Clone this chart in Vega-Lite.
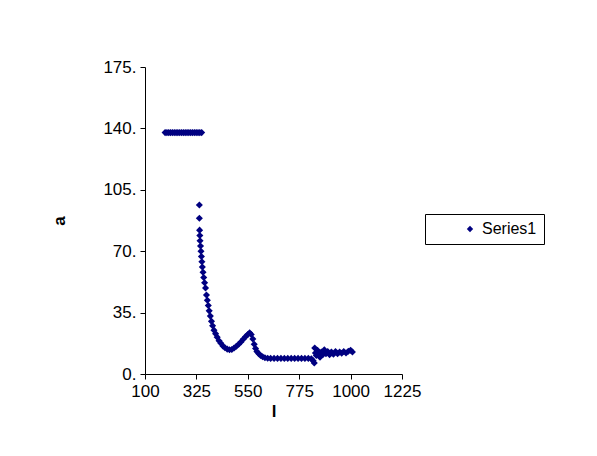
{
"$schema":"https://vega.github.io/schema/vega-lite/v6.json",
"width":257,"height":307,
"autosize":{"type":"none"},
"padding":{"left":145,"top":67,"right":195,"bottom":82},
"background":"white",
"config":{"view":{"stroke":null},"font":"Liberation Sans"},
"data":{"values":[
{"x":188,"y":137.6,"s":"Series1"},{"x":196,"y":137.6,"s":"Series1"},{"x":204,"y":137.6,"s":"Series1"},{"x":212,"y":137.6,"s":"Series1"},{"x":220,"y":137.6,"s":"Series1"},{"x":228,"y":137.6,"s":"Series1"},{"x":236,"y":137.6,"s":"Series1"},{"x":244,"y":137.6,"s":"Series1"},{"x":252,"y":137.6,"s":"Series1"},{"x":260,"y":137.6,"s":"Series1"},{"x":268,"y":137.6,"s":"Series1"},{"x":276,"y":137.6,"s":"Series1"},{"x":284,"y":137.6,"s":"Series1"},{"x":292,"y":137.6,"s":"Series1"},{"x":300,"y":137.6,"s":"Series1"},{"x":308,"y":137.6,"s":"Series1"},{"x":316,"y":137.6,"s":"Series1"},{"x":324,"y":137.6,"s":"Series1"},{"x":332,"y":137.6,"s":"Series1"},{"x":340,"y":137.6,"s":"Series1"},{"x":348,"y":137.6,"s":"Series1"},
{"x":338,"y":96.3,"s":"Series1"},{"x":338,"y":88.8,"s":"Series1"},{"x":339,"y":82,"s":"Series1"},{"x":340,"y":79,"s":"Series1"},{"x":341,"y":76,"s":"Series1"},{"x":343,"y":73,"s":"Series1"},{"x":345,"y":70,"s":"Series1"},{"x":347,"y":67,"s":"Series1"},{"x":349,"y":64,"s":"Series1"},{"x":351,"y":61,"s":"Series1"},{"x":354,"y":58,"s":"Series1"},{"x":357,"y":55,"s":"Series1"},{"x":361,"y":52,"s":"Series1"},{"x":365,"y":49,"s":"Series1"},{"x":369,"y":45,"s":"Series1"},{"x":373,"y":42,"s":"Series1"},{"x":377,"y":39,"s":"Series1"},{"x":381,"y":36,"s":"Series1"},{"x":386,"y":33,"s":"Series1"},{"x":391,"y":30,"s":"Series1"},{"x":396,"y":27.5,"s":"Series1"},{"x":402,"y":25,"s":"Series1"},{"x":409,"y":23,"s":"Series1"},{"x":416,"y":21,"s":"Series1"},{"x":424,"y":19,"s":"Series1"},{"x":432,"y":17.5,"s":"Series1"},{"x":441,"y":16,"s":"Series1"},{"x":450,"y":15,"s":"Series1"},{"x":460,"y":14.2,"s":"Series1"},{"x":470,"y":13.8,"s":"Series1"},{"x":480,"y":14,"s":"Series1"},{"x":490,"y":14.8,"s":"Series1"},{"x":500,"y":15.8,"s":"Series1"},{"x":510,"y":17,"s":"Series1"},{"x":520,"y":18.3,"s":"Series1"},{"x":530,"y":19.8,"s":"Series1"},{"x":540,"y":21.3,"s":"Series1"},{"x":550,"y":22.5,"s":"Series1"},{"x":558,"y":23.5,"s":"Series1"},{"x":565,"y":22.5,"s":"Series1"},{"x":572,"y":20,"s":"Series1"},{"x":578,"y":17,"s":"Series1"},{"x":584,"y":14.5,"s":"Series1"},{"x":590,"y":12.8,"s":"Series1"},{"x":598,"y":11.5,"s":"Series1"},{"x":606,"y":10.5,"s":"Series1"},{"x":615,"y":9.8,"s":"Series1"},{"x":625,"y":9.3,"s":"Series1"},{"x":637,"y":9,"s":"Series1"},{"x":650,"y":8.9,"s":"Series1"},{"x":665,"y":8.9,"s":"Series1"},{"x":680,"y":8.9,"s":"Series1"},{"x":695,"y":8.9,"s":"Series1"},{"x":710,"y":8.9,"s":"Series1"},{"x":725,"y":8.9,"s":"Series1"},{"x":740,"y":8.9,"s":"Series1"},{"x":755,"y":8.9,"s":"Series1"},{"x":770,"y":8.9,"s":"Series1"},{"x":785,"y":8.9,"s":"Series1"},{"x":800,"y":8.9,"s":"Series1"},{"x":815,"y":8.9,"s":"Series1"},{"x":828,"y":8.7,"s":"Series1"},{"x":836,"y":7.5,"s":"Series1"},{"x":841,"y":6.3,"s":"Series1"},
{"x":843,"y":14.8,"s":"Series1"},{"x":846,"y":12,"s":"Series1"},{"x":850,"y":10.5,"s":"Series1"},{"x":855,"y":13.5,"s":"Series1"},{"x":860,"y":11.5,"s":"Series1"},{"x":866,"y":9.5,"s":"Series1"},{"x":872,"y":12.5,"s":"Series1"},{"x":878,"y":11,"s":"Series1"},{"x":885,"y":13.8,"s":"Series1"},{"x":892,"y":11.5,"s":"Series1"},{"x":900,"y":12.8,"s":"Series1"},{"x":908,"y":11,"s":"Series1"},{"x":916,"y":12.5,"s":"Series1"},{"x":925,"y":11.3,"s":"Series1"},{"x":934,"y":12.8,"s":"Series1"},{"x":943,"y":11.5,"s":"Series1"},{"x":952,"y":12.5,"s":"Series1"},{"x":961,"y":11.8,"s":"Series1"},{"x":970,"y":12.8,"s":"Series1"},{"x":980,"y":12,"s":"Series1"},{"x":990,"y":13,"s":"Series1"},{"x":1000,"y":13.5,"s":"Series1"},{"x":1008,"y":12.5,"s":"Series1"}
]},
"mark":{"type":"point","shape":"diamond","filled":true,"opacity":1,"size":50},
"encoding":{
"x":{"field":"x","type":"quantitative","scale":{"domain":[100,1225],"nice":false,"zero":false},
"axis":{"values":[100,325,550,775,1000,1225],"format":"d","labelOverlap":false,"labelBound":false,"labelFlush":false,"grid":false,"domainColor":"black","tickColor":"black","labelColor":"black","labelFontSize":17,"labelPadding":4,"title":"l","titleFontSize":17,"titleFontWeight":"bold","titleColor":"black","titlePadding":4}},
"y":{"field":"y","type":"quantitative","scale":{"domain":[0,175],"nice":false},
"axis":{"values":[0,35,70,105,140,175],"labelExpr":"datum.value + '.'","labelOverlap":false,"grid":false,"domainColor":"black","tickColor":"black","labelColor":"black","labelFontSize":17,"labelPadding":4,"title":"a","titleFontSize":17,"titleFontWeight":"bold","titleColor":"black","titlePadding":34}},
"color":{"field":"s","type":"nominal","scale":{"range":["#000080"]},
"legend":{"title":null,"orient":"none","legendX":280,"legendY":147,"labelFontSize":16,"labelColor":"black","symbolType":"diamond","symbolSize":40,"strokeColor":"black","padding":7,"symbolOffset":30,"labelLimit":300,"fillColor":"white"}}
}
}
